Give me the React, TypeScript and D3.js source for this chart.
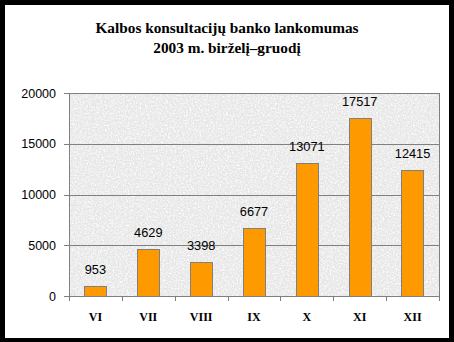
import React from "react";
import * as d3 from "d3";

const titleLines = ["Kalbos konsultacijų banko lankomumas", "2003 m. birželį–gruodį"];
const categories = ["VI", "VII", "VIII", "IX", "X", "XI", "XII"];
const visits = [953, 4629, 3398, 6677, 13071, 17517, 12415];
const yTicks = [0, 5000, 10000, 15000, 20000];

const W = 454;
const H = 342;
const margin = { left: 69, right: 15, top: 93, bottom: 46 };

export default function App() {
  const x = d3
    .scaleBand<string>()
    .domain(categories)
    .range([margin.left, W - margin.right])
    .paddingInner(0.58)
    .paddingOuter(0.29);
  const y = d3.scaleLinear().domain([0, 20000]).range([H - margin.bottom, margin.top]);
  const x0 = margin.left;
  const x1 = W - margin.right;
  const bounds = categories.map((_, i) => x0 + (i * (x1 - x0)) / categories.length);
  bounds.push(x1);

  return (
    <div style={{ position: "absolute", left: 0, top: 0 }}>
      <svg width={W} height={H} style={{ display: "block" }}>
        <defs>
          <filter id="marbleDark" x="0" y="0" width="100%" height="100%">
            <feTurbulence type="fractalNoise" baseFrequency="0.7" numOctaves="2" seed="7" result="n" />
            <feColorMatrix
              in="n"
              type="matrix"
              values="0 0 0 0 0.75  0 0 0 0 0.75  0 0 0 0 0.75  0 0 0 -2.4 1.45"
              result="c"
            />
            <feComposite in="c" in2="SourceGraphic" operator="in" />
          </filter>
          <filter id="marbleLight" x="0" y="0" width="100%" height="100%">
            <feTurbulence type="fractalNoise" baseFrequency="0.6" numOctaves="2" seed="21" result="n" />
            <feColorMatrix
              in="n"
              type="matrix"
              values="0 0 0 0 1  0 0 0 0 1  0 0 0 0 1  0 0 0 -2.6 1.6"
              result="c"
            />
            <feComposite in="c" in2="SourceGraphic" operator="in" />
          </filter>
        </defs>
        <rect x={0} y={0} width={W} height={H} fill="#000" />
        <rect x={5} y={5} width={444} height={333} fill="#fff" />
        {titleLines.map((t, i) => (
          <text
            key={i}
            x={227}
            y={33 + i * 20}
            textAnchor="middle"
            fontFamily="'Liberation Serif', 'Times New Roman', serif"
            fontWeight="bold"
            fontSize={15.3}
            fill="#000"
          >
            {t}
          </text>
        ))}
        <rect x={x0} y={y(20000)} width={x1 - x0} height={y(0) - y(20000)} fill="#e9e9e9" />
        <rect
          x={x0}
          y={y(20000)}
          width={x1 - x0}
          height={y(0) - y(20000)}
          fill="#fff"
          filter="url(#marbleLight)"
        />
        <rect
          x={x0}
          y={y(20000)}
          width={x1 - x0}
          height={y(0) - y(20000)}
          fill="#fff"
          filter="url(#marbleDark)"
          opacity={0.8}
        />
        {yTicks.map((t) => (
          <g key={t}>
            <line x1={x0 - 5} x2={x1} y1={Math.round(y(t)) + 0.5} y2={Math.round(y(t)) + 0.5} stroke="#808080" strokeWidth={1} />
            <text
              x={56}
              y={y(t) + 4.5}
              textAnchor="end"
              fontFamily="'Liberation Sans', Arial, sans-serif"
              fontSize={12.5}
              fill="#000"
            >
              {t}
            </text>
          </g>
        ))}
        <line x1={x0 + 0.5} x2={x0 + 0.5} y1={y(20000)} y2={y(0) + 5} stroke="#808080" />
        <line x1={x1 + 0.5} x2={x1 + 0.5} y1={y(20000)} y2={y(0)} stroke="#808080" />
        {bounds.map((b, i) => (
          <line key={i} x1={Math.round(b) + 0.5} x2={Math.round(b) + 0.5} y1={y(0)} y2={y(0) + 5} stroke="#808080" />
        ))}
        {categories.map((c, i) => {
          const v = visits[i];
          const bx = x(c)!;
          const bw = x.bandwidth();
          return (
            <g key={c}>
              <rect
                x={Math.round(bx) + 0.5}
                y={Math.round(y(v)) + 0.5}
                width={Math.round(bw)}
                height={Math.round(y(0)) - Math.round(y(v))}
                fill="#ff9900"
                stroke="#808080"
                strokeWidth={1}
              />
              <text
                x={bx + bw / 2}
                y={y(v) - 12}
                textAnchor="middle"
                fontFamily="'Liberation Sans', Arial, sans-serif"
                fontSize={12.8}
                fill="#000"
              >
                {v}
              </text>
              <text
                x={bx + bw / 2}
                y={321}
                textAnchor="middle"
                fontFamily="'Liberation Serif', 'Times New Roman', serif"
                fontWeight="bold"
                fontSize={12}
                fill="#000"
              >
                {c}
              </text>
            </g>
          );
        })}
      </svg>
    </div>
  );
}
